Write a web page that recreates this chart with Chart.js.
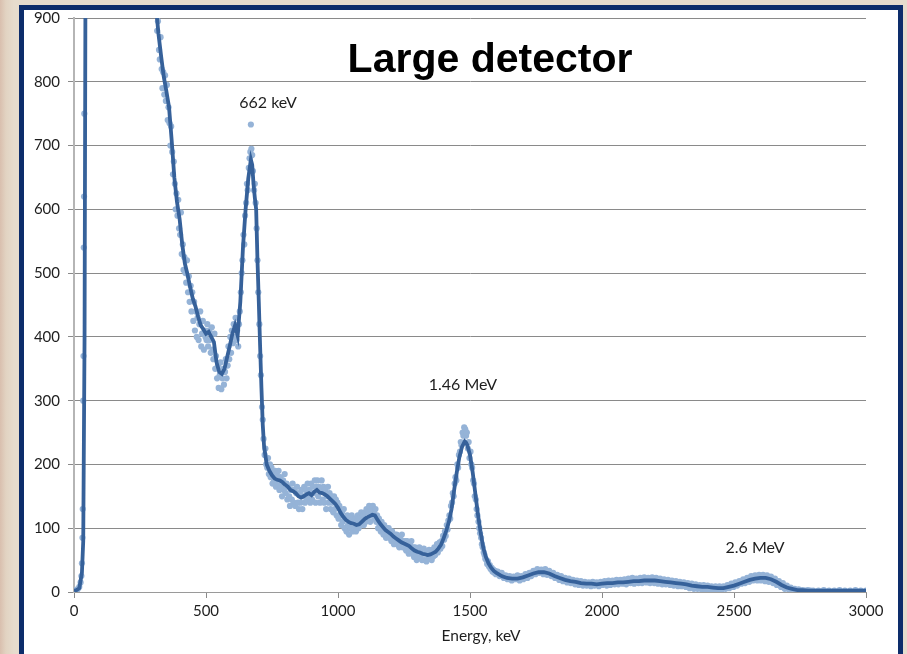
<!DOCTYPE html>
<html>
<head>
<meta charset="utf-8">
<script src="https://cdn.jsdelivr.net/npm/chart.js@4.4.1/dist/chart.umd.min.js"></script>
<style>
  html,body{margin:0;padding:0;width:907px;height:654px;overflow:hidden;}
  body{background:linear-gradient(90deg,#d9bfae 0px,#e2d3c2 6px,#e6dccd 14px,#e6dccd 100%);position:relative;}
  #panel{position:absolute;left:19px;top:5px;width:884px;height:654px;box-sizing:border-box;border:5px solid #0d2d6b;background:#ffffff;}
  #c{position:absolute;left:0;top:0;}
</style>
</head>
<body>
<div id="panel"></div>
<canvas id="c" width="907" height="654"></canvas>
<script>
// ---- smoothed spectrum (energy keV, counts) ----
const lineEnergy = [0,10,20,30,35,40,45,60,100,200,260,290,300,310,320,330,340,350,360,370,380,390,400,410,420,430,440,450,460,470,480,490,500,510,520,530,540,550,560,570,580,590,600,610,620,630,640,650,660,670,675,680,685,690,695,700,705,710,715,720,730,740,750,760,770,780,790,800,810,820,830,840,850,860,870,880,890,900,910,920,930,940,950,960,970,980,990,1000,1010,1020,1030,1040,1050,1060,1070,1080,1090,1100,1110,1120,1130,1140,1150,1160,1170,1180,1190,1200,1210,1220,1230,1240,1250,1260,1270,1280,1290,1300,1310,1320,1330,1340,1350,1360,1370,1380,1390,1400,1410,1420,1430,1440,1450,1460,1470,1480,1485,1490,1500,1510,1520,1530,1540,1550,1560,1570,1580,1590,1600,1620,1640,1660,1680,1700,1720,1740,1760,1780,1800,1820,1840,1860,1880,1900,1920,1940,1960,1980,2000,2020,2040,2060,2080,2100,2120,2140,2160,2180,2200,2220,2240,2260,2280,2300,2320,2340,2360,2380,2400,2420,2440,2460,2480,2500,2520,2540,2560,2580,2600,2620,2640,2660,2680,2700,2720,2740,2760,2780,2800,2850,2900,2950,3000];
const lineCounts = [2,3,6,30,80,400,1200,2600,3500,2200,1400,1100,1000,920,875,840,808,785,760,708,650,612,585,545,515,498,478,460,448,432,418,412,405,408,400,392,360,345,342,350,368,386,405,418,402,455,540,600,648,678,670,640,618,600,520,455,385,320,262,228,200,190,183,178,176,175,172,168,165,160,158,155,150,148,150,153,155,152,157,160,156,155,153,150,146,142,138,132,124,118,113,110,108,107,105,106,110,114,117,119,121,120,113,107,102,97,94,91,87,84,81,78,76,74,72,68,65,63,62,60,59,58,59,61,63,68,74,84,96,110,130,160,188,212,228,236,234,230,215,188,155,122,94,70,55,45,38,33,30,25,22,21,21,23,26,29,31,31,29,25,22,19,17,16,14,13,13,12,13,14,14,15,15,16,17,17,18,18,18,17,16,15,14,13,12,10,9,8,8,7,6,6,8,10,13,16,19,21,22,22,20,16,11,7,5,3,3,2,2,2,2,2,2];

// ---- raw channel counts (scatter dots) ----
const dotEnergy = [0,5,10,15,20,25,28,30,32,33,35,36,37,38,39,
312,315,318,322,325,328,332,335,338,342,345,348,352,355,358,362,365,368,372,375,378,382,385,388,392,395,398,402,405,408,412,415,418,422,425,428,432,435,438,442,445,448,452,455,458,462,465,468,472,475,478,482,485,488,492,495,498,
502,505,508,512,515,518,522,525,528,532,535,538,542,545,548,552,555,558,562,565,568,572,575,578,582,585,588,592,595,598,602,605,608,612,615,618,622,625,628,632,635,638,642,645,648,652,655,658,662,665,668,670,672,675,678,682,685,688,692,695,698,
702,705,708,712,715,718,722,725,728,732,735,738,742,745,748,752,755,758,762,765,768,772,775,778,782,785,788,792,795,798,802,805,808,812,815,818,822,825,828,832,835,838,842,845,848,852,855,858,862,865,868,872,875,878,882,885,888,892,895,898,
902,905,908,912,915,918,922,925,928,932,935,938,942,945,948,952,955,958,962,965,968,972,975,978,982,985,988,992,995,998,
1002,1005,1008,1012,1015,1018,1022,1025,1028,1032,1035,1038,1042,1045,1048,1052,1055,1058,1062,1065,1068,1072,1075,1078,1082,1085,1088,1092,1095,1098,
1102,1105,1108,1112,1115,1118,1122,1125,1128,1132,1135,1138,1142,1145,1148,1152,1155,1158,1162,1165,1168,1172,1175,1178,1182,1185,1188,1192,1195,1198,
1202,1205,1208,1212,1215,1218,1222,1225,1228,1232,1235,1238,1242,1245,1248,1252,1255,1258,1262,1265,1268,1272,1275,1278,1282,1285,1288,1292,1295,1298,
1302,1305,1308,1312,1315,1318,1322,1325,1328,1332,1335,1338,1342,1345,1348,1352,1355,1358,1362,1365,1368,1372,1375,1378,1382,1385,1388,1392,1395,1398,
1402,1405,1408,1412,1415,1418,1422,1425,1428,1432,1435,1438,1442,1445,1448,1452,1455,1458,1462,1465,1468,1472,1475,1478,1482,1485,1488,1492,1495,1498,
1502,1505,1508,1512,1515,1518,1522,1525,1528,1532,1535,1538,1542,1545,1548,1552,1555,1558,1562,1565,1568,1572,1575,1578,1582,1585,1588,1592,1595,1598,
1605,1612,1620,1628,1635,1642,1650,1658,1665,1672,1680,1688,1695,1702,1710,1718,1725,1732,1740,1748,1755,1762,1770,1778,1785,1792,1800,1808,1815,1822,1830,1838,1845,1852,1860,1868,1875,1882,1890,1898,
1905,1912,1920,1928,1935,1942,1950,1958,1965,1972,1980,1988,1995,2002,2010,2018,2025,2032,2040,2048,2055,2062,2070,2078,2085,2092,2100,2108,2115,2122,2130,2138,2145,2152,2160,2168,2175,2182,2190,2198,
2205,2212,2220,2228,2235,2242,2250,2258,2265,2272,2280,2288,2295,2302,2310,2318,2325,2332,2340,2348,2355,2362,2370,2378,2385,2392,2400,2408,2415,2422,2430,2438,2445,2452,2460,2468,2475,2482,2490,2498,
2505,2512,2520,2528,2535,2542,2550,2558,2565,2572,2580,2588,2595,2602,2610,2618,2625,2632,2640,2648,2655,2662,2670,2678,2685,2692,2700,2708,2715,2722,2730,2738,2745,2752,2760,2770,2780,2790,2800,
2820,2840,2860,2880,2900,2920,2940,2960,2980,3000];
const dotCounts = [0,3,2,5,8,15,25,45,85,130,300,370,540,620,750,
905,880,895,850,835,870,820,790,815,780,810,770,795,740,760,735,700,730,690,655,675,640,600,625,590,615,570,560,595,530,545,505,525,500,485,520,470,495,455,480,440,470,425,455,410,440,400,430,395,420,440,385,405,425,380,410,400,
395,420,385,410,395,375,415,380,365,405,350,370,335,355,320,340,360,318,335,350,325,345,365,335,355,385,365,400,375,410,390,420,400,430,395,410,385,420,440,470,500,520,560,545,590,610,640,630,665,680,690,733,695,685,660,630,640,610,570,520,470,
420,370,340,290,270,240,215,225,200,195,210,185,200,180,195,170,188,175,190,165,185,170,190,160,180,165,150,175,160,185,155,170,145,165,150,135,160,145,170,140,160,135,155,165,140,130,155,140,160,130,150,165,140,160,145,170,150,160,140,170,
145,165,155,175,140,165,175,150,165,140,160,175,145,165,140,160,130,150,165,140,155,130,150,140,125,150,130,145,120,140,
115,135,120,105,125,110,130,100,115,95,120,105,90,115,100,120,95,110,100,115,95,110,120,100,115,105,125,110,120,105,
125,110,130,115,125,135,110,130,120,135,125,115,130,110,120,100,115,105,95,110,100,90,105,95,85,100,90,100,85,95,
80,95,85,75,90,80,90,75,85,70,85,75,90,70,80,70,80,65,80,70,60,75,65,80,60,70,55,70,60,50,
65,55,70,55,65,50,60,68,50,62,48,60,52,66,55,62,50,66,56,70,58,66,75,62,72,78,68,80,72,88,
82,95,88,105,98,112,120,115,135,140,155,150,170,180,175,200,195,215,220,235,230,250,245,258,255,245,250,225,235,210,
220,200,195,175,170,150,145,130,120,110,100,92,85,75,70,62,58,52,50,44,48,40,42,36,38,32,35,30,33,28,
32,25,30,22,26,20,25,18,24,20,26,18,25,20,28,22,30,25,33,28,36,30,35,28,36,27,33,25,30,22,27,19,25,17,22,15,21,14,19,12,
18,11,17,10,16,10,15,9,16,10,15,9,16,11,17,10,18,11,18,12,19,12,19,13,20,12,21,14,22,13,21,14,22,14,23,15,22,14,23,14,
22,13,21,12,20,12,19,11,18,10,17,9,16,9,15,8,14,6,13,5,12,5,11,4,11,4,10,3,9,3,9,3,9,3,9,5,11,6,13,8,
15,10,17,13,20,14,22,16,25,18,26,18,27,18,27,17,26,16,24,14,21,11,17,8,14,5,10,4,7,3,5,2,4,2,3,2,3,2,2,
2,3,2,2,3,2,2,3,2,2];

// ---- axis ticks and peak labels ----
const xTicks = [0,500,1000,1500,2000,2500,3000];
const yTicks = [0,100,200,300,400,500,600,700,800,900];
const peakLabels = ['662 keV','1.46 MeV','2.6 MeV'];
const peakLabelEnergy = [735,1473,2580];
const peakLabelCounts = [767,325,70];

const FONT = 'Lato, "Open Sans", "Liberation Sans", sans-serif';

const textPlugin = {
  id: 'texts',
  afterDraw(chart) {
    const ctx = chart.ctx;
    const xs = chart.scales.x, ys = chart.scales.y;
    ctx.save();
    ctx.fillStyle = '#1e1e1e';
    ctx.textAlign = 'center';
    ctx.textBaseline = 'middle';
    ctx.font = '16px ' + FONT;
    peakLabels.forEach((t, i) => {
      ctx.fillText(t, xs.getPixelForValue(peakLabelEnergy[i]), ys.getPixelForValue(peakLabelCounts[i]));
    });
    ctx.font = '15.5px ' + FONT;
    ctx.fillText('Energy, keV', 481, 636);
    ctx.fillStyle = '#000000';
    ctx.font = 'bold 41px "Liberation Sans", Arial, sans-serif';
    ctx.fillText('Large detector', 490, 61);
    ctx.restore();
  }
};

new Chart(document.getElementById('c'), {
  type: 'scatter',
  data: {
    datasets: [
      {
        type: 'line',
        data: lineEnergy.map((e, i) => ({x: e, y: lineCounts[i]})),
        borderColor: '#36619a',
        borderWidth: 3.8,
        pointRadius: 0,
        tension: 0,
        fill: false,
        order: 0
      },
      {
        type: 'scatter',
        data: dotEnergy.map((e, i) => ({x: e, y: dotCounts[i]})),
        backgroundColor: '#95b3d7',
        borderWidth: 0,
        pointRadius: 3.1,
        order: 1
      }
    ]
  },
  options: {
    responsive: false,
    animation: false,
    devicePixelRatio: 1,
    layout: {padding: {left: 0, top: 18, right: 41, bottom: 0}},
    plugins: {legend: {display: false}, tooltip: {enabled: false}, title: {display: false}},
    scales: {
      x: {
        type: 'linear', min: 0, max: 3000,
        afterFit(s) { s.height = 62; },
        afterBuildTicks(s) { s.ticks = xTicks.map(v => ({value: v})); },
        grid: {drawOnChartArea: false, drawTicks: true, tickLength: 6, color: '#8a8a8a'},
        border: {color: '#9a9a9a', width: 1},
        ticks: {padding: 4, color: '#1e1e1e', font: {family: FONT, size: 15}, maxRotation: 0,
                callback: v => String(v)}
      },
      y: {
        type: 'linear', min: 0, max: 900,
        afterFit(s) { s.width = 74; },
        afterBuildTicks(s) { s.ticks = yTicks.map(v => ({value: v})); },
        grid: {color: '#8a8a8a', lineWidth: 1, tickLength: 6},
        border: {color: '#b5b5b5', width: 2},
        ticks: {padding: 8, color: '#1e1e1e', font: {family: FONT, size: 15}, callback: v => String(v)}
      }
    }
  },
  plugins: [textPlugin]
});
</script>
</body>
</html>
